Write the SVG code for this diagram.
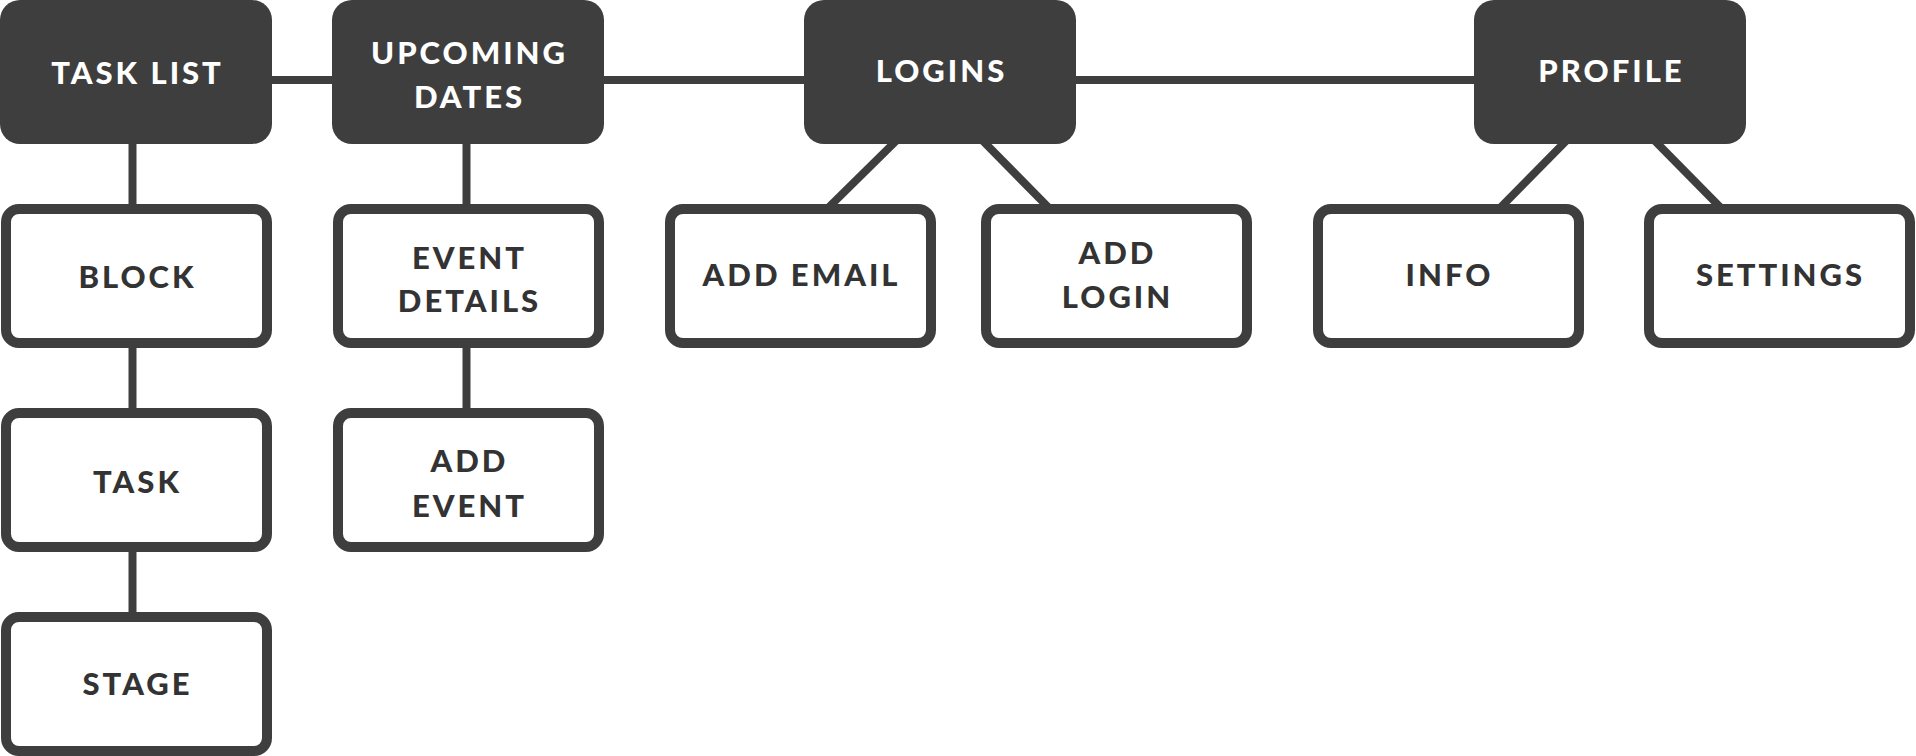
<svg xmlns="http://www.w3.org/2000/svg" width="1916" height="756" viewBox="0 0 1916 756">
<style>
.top rect{fill:#3e3e3e}
.child rect{fill:#ffffff;stroke:#3e3e3e;stroke-width:10}
text{font-family:"Lato","Liberation Sans",sans-serif;font-weight:900;font-size:31px;letter-spacing:3px;text-anchor:middle}
.top text{fill:#ffffff}
.child text{fill:#333333}
#connectors line{stroke:#3e3e3e;stroke-width:8}
</style>
<rect width="1916" height="756" fill="#ffffff"/>
<g id="connectors">
<line x1="136" y1="80" x2="1610" y2="80"/>
<line x1="132.5" y1="140" x2="132.5" y2="210"/>
<line x1="132.5" y1="344" x2="132.5" y2="414"/>
<line x1="132.5" y1="548" x2="132.5" y2="618"/>
<line x1="466.5" y1="140" x2="466.5" y2="210"/>
<line x1="466.5" y1="344" x2="466.5" y2="414"/>
<line x1="897" y1="140" x2="828" y2="208"/>
<line x1="982" y1="140" x2="1049" y2="208"/>
<line x1="1567" y1="140" x2="1500" y2="208"/>
<line x1="1654" y1="140" x2="1721" y2="208"/>
</g>
<g id="tasklist" class="top"><rect x="0" y="0" width="272" height="144" rx="20"/><text x="137.5" y="84">TASK LIST</text></g>
<g id="upcoming" class="top"><rect x="332" y="0" width="272" height="144" rx="20"/><text x="469.5" y="64">UPCOMING</text><text x="469.5" y="108">DATES</text></g>
<g id="logins" class="top"><rect x="804" y="0" width="272" height="144" rx="20"/><text x="941.5" y="82">LOGINS</text></g>
<g id="profile" class="top"><rect x="1474" y="0" width="272" height="144" rx="20"/><text x="1611.5" y="82">PROFILE</text></g>
<g id="block" class="child"><rect x="6" y="209" width="261" height="134" rx="13"/><text x="137.5" y="288">BLOCK</text></g>
<g id="task" class="child"><rect x="6" y="413" width="261" height="134" rx="13"/><text x="137.5" y="493">TASK</text></g>
<g id="stage" class="child"><rect x="6" y="617" width="261" height="134" rx="13"/><text x="137.5" y="695">STAGE</text></g>
<g id="eventdetails" class="child"><rect x="338" y="209" width="261" height="134" rx="13"/><text x="469.5" y="269">EVENT</text><text x="469.5" y="312">DETAILS</text></g>
<g id="addevent" class="child"><rect x="338" y="413" width="261" height="134" rx="13"/><text x="469.5" y="472">ADD</text><text x="469.5" y="517">EVENT</text></g>
<g id="addemail" class="child"><rect x="670" y="209" width="261" height="134" rx="13"/><text x="801.5" y="286">ADD EMAIL</text></g>
<g id="addlogin" class="child"><rect x="986" y="209" width="261" height="134" rx="13"/><text x="1117.5" y="264">ADD</text><text x="1117.5" y="308">LOGIN</text></g>
<g id="info" class="child"><rect x="1318" y="209" width="261" height="134" rx="13"/><text x="1449.5" y="286">INFO</text></g>
<g id="settings" class="child"><rect x="1649" y="209" width="261" height="134" rx="13"/><text x="1780.5" y="286">SETTINGS</text></g>
</svg>
